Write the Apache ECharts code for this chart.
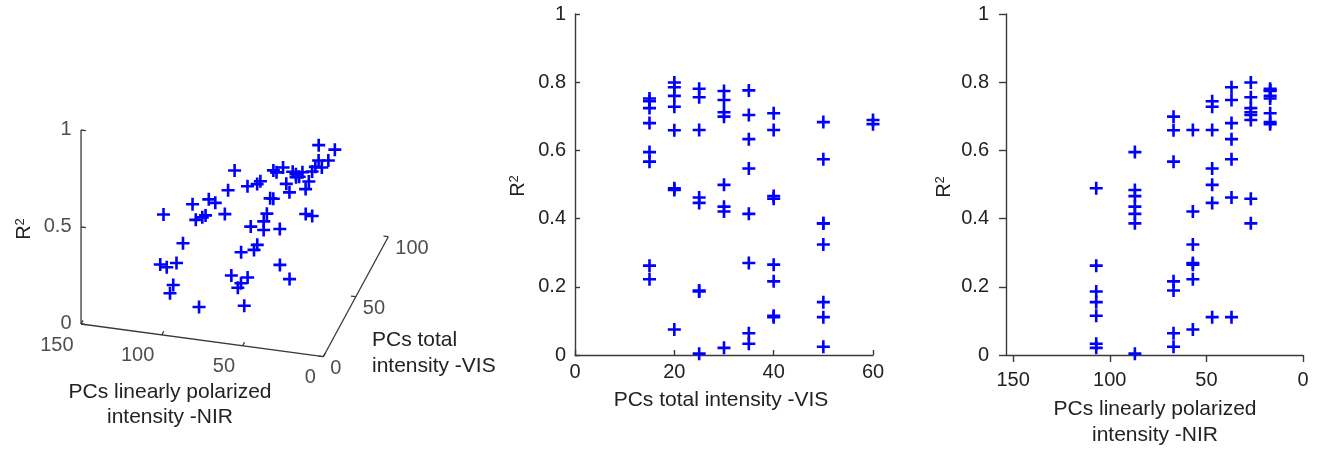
<!DOCTYPE html>
<html><head><meta charset="utf-8">
<script src="https://cdn.jsdelivr.net/npm/echarts@6/dist/echarts.min.js"></script>
<style>html,body{margin:0;padding:0;background:#fff}#c{width:1319px;height:451px}</style>
</head><body><div id="c"></div>
<script>
// ---------- data ----------
const nirLevels = [107, 87, 67, 57, 47, 37, 27, 17];      // PCs linearly polarized intensity -NIR
const visLevels = [15, 20, 25, 30, 35, 40, 50];            // PCs total intensity -VIS
// R^2 for each NIR level, one value per VIS level above
const r2_NIR107 = [0.262, 0.489, 0.186, 0.021, 0.033, 0.115, 0.155];
const r2_NIR87  = [0.595, 0.484, 0.004, 0.435, 0.414, 0.466, 0.386];
const r2_NIR67  = [0.567, 0.659, 0.189, 0.699, 0.064, 0.216, 0.024];
const r2_NIR57  = [0.222, 0.075, 0.660, 0.421, 0.270, 0.265, 0.324];
const r2_NIR47  = [0.744, 0.728, 0.446, 0.499, 0.547, 0.660, 0.111];
const r2_NIR37  = [0.680, 0.785, 0.462, 0.748, 0.633, 0.111, 0.574];
const r2_NIR27  = [0.724, 0.799, 0.756, 0.712, 0.704, 0.458, 0.386];
const r2_NIR17  = [0.752, 0.760, 0.781, 0.774, 0.776, 0.709, 0.683];
// extra points at VIS = 60
const vis60 = 60;
const nir_V60 = [27, 17];
const r2_V60  = [0.689, 0.677];

const nirTicks3d = [0, 50, 100, 150];
const visTicks3d = [0, 50, 100];
const r2Ticks3d = [0, 0.5, 1];
const nirTicks = [0, 50, 100, 150];

// ---------- build point list ----------
const r2ByNir = [r2_NIR107, r2_NIR87, r2_NIR67, r2_NIR57, r2_NIR47, r2_NIR37, r2_NIR27, r2_NIR17];
const points = []; // [nir, vis, r2]
nirLevels.forEach((n, i) => r2ByNir[i].forEach((r, j) => points.push([n, visLevels[j], r])));
nir_V60.forEach((n, i) => points.push([n, vis60, r2_V60[i]]));

// ---------- 3D projection (oblique view of the left panel) ----------
const O = [323.3, 356.7], NX = [-1.615, -0.218], VX = [0.65, -1.2], RZ = -194;
function proj(n, v, r) { return [O[0] + n * NX[0] + v * VX[0], O[1] + n * NX[1] + v * VX[1] + r * RZ]; }
const NIR_MAX = 150, VIS_MAX = 100;

const segs = [];
function seg(a, b) { segs.push([a[0], a[1], b[0], b[1]]); }
seg(proj(0, 0, 0), proj(NIR_MAX, 0, 0));
seg(proj(0, 0, 0), proj(0, VIS_MAX, 0));
seg(proj(NIR_MAX, 0, 0), proj(NIR_MAX, 0, 1));
nirTicks3d.forEach(n => seg(proj(n, 0, 0), proj(n, 3, 0)));
visTicks3d.forEach(v => seg(proj(0, v, 0), proj(3, v, 0)));
r2Ticks3d.forEach(r => seg(proj(NIR_MAX, 0, r), proj(NIR_MAX - 3, 0, r)));

const font = "'Liberation Sans', Arial, Helvetica, sans-serif";
const txt = '#222';
const axc = '#3a3a3a';
const plus = 'path://M4.8,0H7.2V4.8H12V7.2H7.2V12H4.8V7.2H0V4.8H4.8Z';
const blue = '#0000ff';

function lbl(align, dx, dy) {
  return { show: true, position: [dx, dy], align: align, verticalAlign: 'middle',
    formatter: p => p.name, fontSize: 20, color: txt, fontFamily: font };
}

const chart = echarts.init(document.getElementById('c'), null, { renderer: 'canvas' });
const axisBase = (extra) => Object.assign({
  type: 'value', splitLine: { show: false },
  axisLine: { show: true, onZero: false, lineStyle: { color: axc, width: 1.4 } },
  axisTick: { show: true, lineStyle: { color: axc, width: 1.4 } },
  axisLabel: { fontSize: 20, color: txt, fontFamily: font }
}, extra);

const labelSeries = (data, label) => ({
  type: 'scatter', xAxisIndex: 0, yAxisIndex: 0, symbol: 'circle', symbolSize: 1, silent: true,
  itemStyle: { color: 'rgba(0,0,0,0)' }, data: data, label: label
});

const r2Title = (x, y) => ({ type: 'text', x: x, y: y, rotation: Math.PI / 2,
  style: { text: 'R{s|2}', align: 'center', verticalAlign: 'middle', fontSize: 20, fill: txt, fontFamily: font,
    rich: { s: { fontSize: 13, verticalAlign: 'top', fill: txt, fontFamily: font } } } });

chart.setOption({
  animation: false,
  backgroundColor: '#fff',
  grid: [
    { left: 0, top: 0, width: 520, height: 451 },
    { left: 575, top: 14, width: 298, height: 341 },
    { left: 1006, top: 14, width: 297, height: 341 }
  ],
  xAxis: [
    { gridIndex: 0, type: 'value', min: 0, max: 520, show: false },
    axisBase({ gridIndex: 1, min: 0, max: 60, interval: 20,
      axisTick: { show: true, inside: true, length: 5, lineStyle: { color: axc, width: 1.4 } },
      axisLabel: { margin: 7, fontSize: 20, color: txt, fontFamily: font } }),
    axisBase({ gridIndex: 2, min: 0, max: 153.7, inverse: true,
      axisTick: { show: true, inside: false, length: 7, customValues: nirTicks, lineStyle: { color: axc, width: 1.4 } },
      axisLabel: { margin: 15, customValues: nirTicks, fontSize: 20, color: txt, fontFamily: font } })
  ],
  yAxis: [
    { gridIndex: 0, type: 'value', min: 0, max: 451, inverse: true, show: false },
    axisBase({ gridIndex: 1, min: 0, max: 1, interval: 0.2,
      axisTick: { show: true, inside: true, length: 5, lineStyle: { color: axc, width: 1.4 } },
      axisLabel: { margin: 9, fontSize: 20, color: txt, fontFamily: font } }),
    axisBase({ gridIndex: 2, min: 0, max: 1, interval: 0.2,
      axisTick: { show: true, inside: false, length: 7, lineStyle: { color: axc, width: 1.4 } },
      axisLabel: { margin: 17, fontSize: 20, color: txt, fontFamily: font } })
  ],
  graphic: [
    r2Title(24, 229),
    r2Title(518, 186),
    r2Title(944, 187),
    { type: 'text', x: 170, y: 404.5,
      style: { text: 'PCs linearly polarized\nintensity -NIR', align: 'center', verticalAlign: 'middle', lineHeight: 25, fontSize: 21, fill: txt, fontFamily: font } },
    { type: 'text', x: 372, y: 353,
      style: { text: 'PCs total\nintensity -VIS', align: 'left', verticalAlign: 'middle', lineHeight: 26, fontSize: 21, fill: txt, fontFamily: font } },
    { type: 'text', x: 721, y: 400,
      style: { text: 'PCs total intensity -VIS', align: 'center', verticalAlign: 'middle', fontSize: 21, fill: txt, fontFamily: font } },
    { type: 'text', x: 1155, y: 422,
      style: { text: 'PCs linearly polarized\nintensity -NIR', align: 'center', verticalAlign: 'middle', lineHeight: 26, fontSize: 21, fill: txt, fontFamily: font } }
  ],
  series: [
    { type: 'custom', xAxisIndex: 0, yAxisIndex: 0, clip: false, silent: true,
      data: segs, encode: { x: [0, 2], y: [1, 3] },
      renderItem: (params, api) => {
        const a = api.coord([api.value(0), api.value(1)]);
        const b = api.coord([api.value(2), api.value(3)]);
        return { type: 'line', shape: { x1: a[0], y1: a[1], x2: b[0], y2: b[1] },
          style: { stroke: axc, lineWidth: 1.3 } };
      } },
    labelSeries(nirTicks3d.map(n => ({ name: String(n), value: proj(n, 0, 0) })), lbl('right', -7, 21.5)),
    labelSeries(visTicks3d.map(v => ({ name: String(v), value: proj(0, v, 0) })), lbl('left', 7.5, 12.5)),
    labelSeries(r2Ticks3d.map(r => ({ name: String(r), value: proj(NIR_MAX, 0, r) })), lbl('right', -9, 0)),
    { type: 'scatter', xAxisIndex: 0, yAxisIndex: 0, symbol: plus, symbolSize: 13,
      itemStyle: { color: blue, opacity: 1 }, data: points.map(p => proj(p[0], p[1], p[2])) },
    { type: 'scatter', xAxisIndex: 1, yAxisIndex: 1, symbol: plus, symbolSize: 13,
      itemStyle: { color: blue, opacity: 1 }, data: points.map(p => [p[1], p[2]]) },
    { type: 'scatter', xAxisIndex: 2, yAxisIndex: 2, symbol: plus, symbolSize: 13,
      itemStyle: { color: blue, opacity: 1 }, data: points.map(p => [p[0], p[2]]) }
  ]
});
</script></body></html>
